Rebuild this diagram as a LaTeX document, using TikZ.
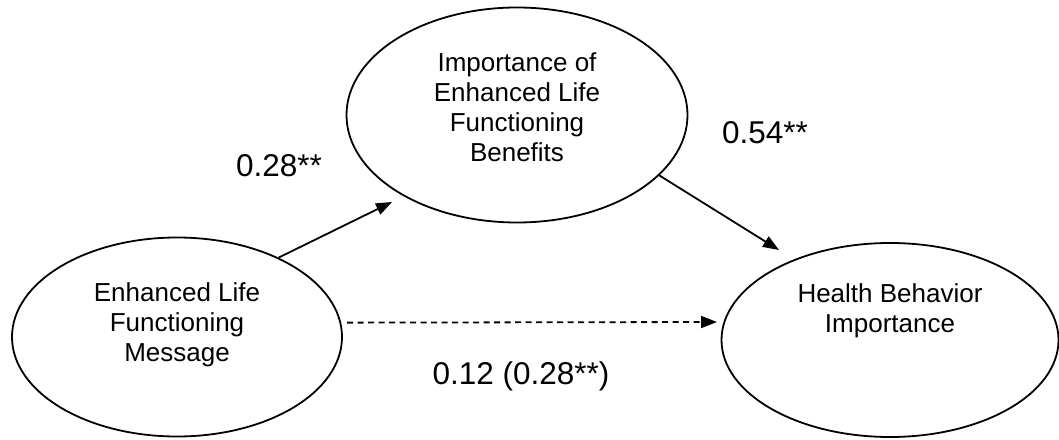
\documentclass[tikz,border=0pt]{standalone}
\usepackage{fontspec}
\setmainfont{Liberation Sans}
\usetikzlibrary{shapes.geometric,arrows.meta}
\tikzset{
  var/.style={draw,ellipse,line width=1.8pt,inner sep=0pt},
  vartext/.style={align=center,font=\fontsize{26}{30}\selectfont},
  effect/.style={line width=1.8pt,-{Triangle[length=16pt,width=12pt]}},
  coef/.style={anchor=base,font=\fontsize{31.5}{36}\selectfont}
}
\begin{document}
\begin{tikzpicture}[x=1pt,y=1pt]
\useasboundingbox (0,0) rectangle (1059,439);
\node[var,minimum width=330pt,minimum height=199pt,
  label={[vartext,yshift=12pt]center:{Enhanced Life\\Functioning\\Message}}] (msg) at (177,102) {};
\node[var,minimum width=341pt,minimum height=215pt,
  label={[vartext,yshift=7.5pt]center:{Importance of\\Enhanced Life\\Functioning\\Benefits}}] (imp) at (517,324) {};
\node[var,minimum width=337pt,minimum height=194pt,
  label={[vartext,yshift=29pt]center:{Health Behavior\\Importance}}] (hbi) at (890,99) {};
\coordinate (tipa) at (392,237);
\coordinate (tipb) at (779,189);
\coordinate (tipc) at (717,117);
\draw[effect] (msg.38) -- (tipa);
\draw[effect] (imp.-23) -- (tipb);
\draw[effect,dash pattern=on 6pt off 4.5pt,shorten <=6pt] (msg.5) -- (tipc);
\node[coef] (ca) at (279,262) {0.28**};
\node[coef] (cb) at (765,295) {0.54**};
\node[coef] (cc) at (521,55) {0.12 (0.28**)};
\end{tikzpicture}
\end{document}
